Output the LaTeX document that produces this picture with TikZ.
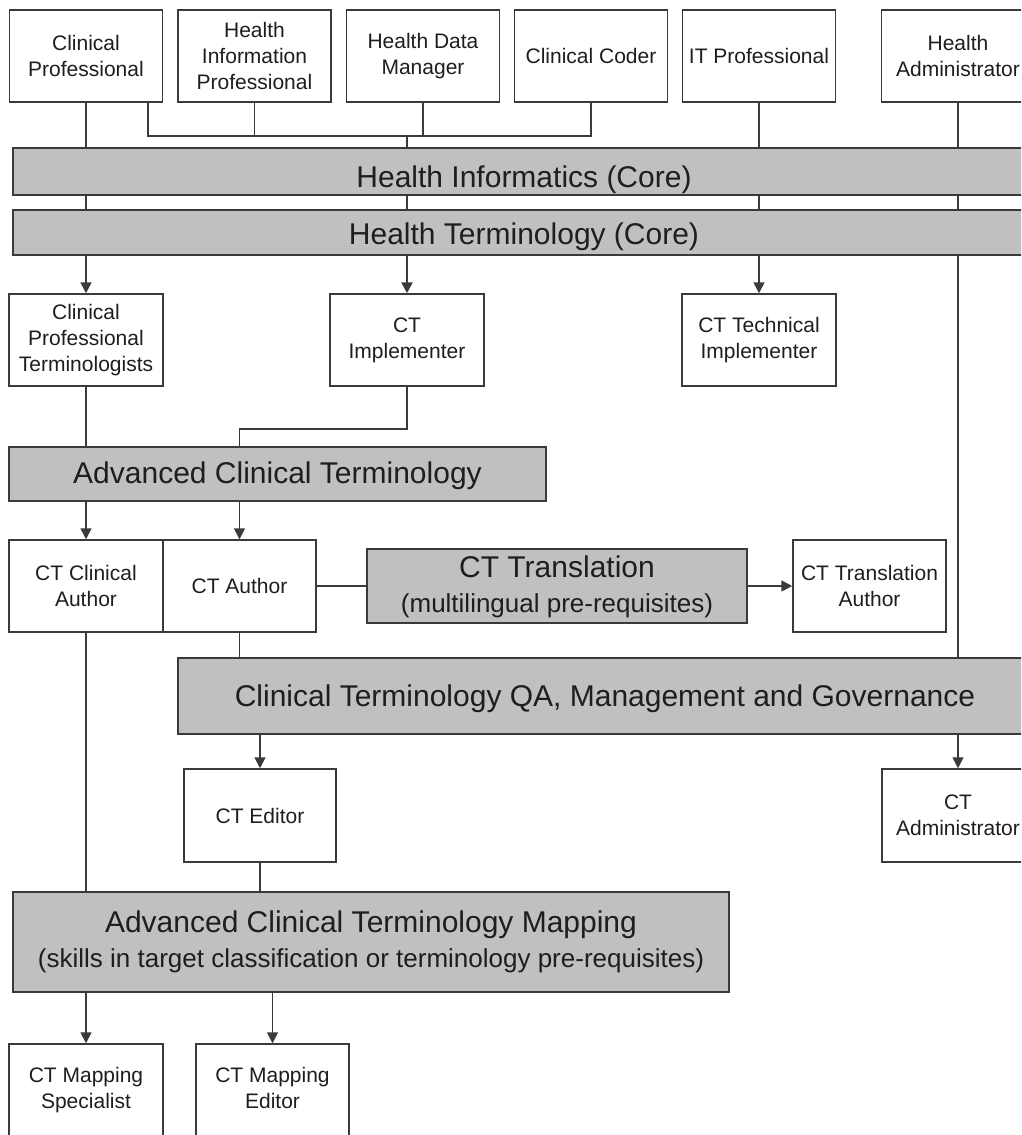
\documentclass[tikz,border=0pt]{standalone}
\usepackage{fontspec}
\setmainfont{Liberation Sans}
\usetikzlibrary{arrows.meta,backgrounds}
\definecolor{barfill}{HTML}{C0C0C0}
\definecolor{edge}{HTML}{3A3A3A}
\definecolor{ink}{HTML}{1E1E1E}

\begin{document}
\begin{tikzpicture}[x=1pt,y=-1pt,
  role/.style={rectangle, draw=edge, line width=1.5pt, fill=white, inner sep=0pt,
    minimum width=153pt, minimum height=92pt, align=center, text=ink,
    font=\fontsize{21}{26}\selectfont},
  course/.style={rectangle, draw=edge, line width=1.6pt, fill=barfill, inner sep=0pt},
  coursetitle/.style={anchor=base, text=ink, inner sep=0pt, font=\fontsize{30}{36}\selectfont},
  coursesub/.style={anchor=base, text=ink, inner sep=0pt, font=\fontsize{26}{31}\selectfont},
  link/.style={draw=edge, line width=1.6pt},
  arr/.style={link, -{Triangle[length=11pt,width=11pt]}},
]
\useasboundingbox (0,0) rectangle (1021,1135);
\clip (0,0) rectangle (1021,1135);

% professional roles
\node[role] (cp)  at (86,56) {Clinical\\Professional};
\node[role] (hip) at (254.5,56) {Health\\Information\\Professional};
\node[role] (hdm) at (423,56) {Health Data\\Manager};
\node[role] (cc)  at (591,56) {Clinical Coder};
\node[role] (itp) at (759,56) {IT Professional};
\node[role] (ha)  at (958,56) {Health\\Administrator};

% core courses
\node[course, minimum width=1022pt, minimum height=47pt] (hi) at (524,171.5) {};
\node[coursetitle] (hiT) at (524,187) {Health Informatics (Core)};
\node[course, minimum width=1022pt, minimum height=45pt] (ht) at (524,232.5) {};
\node[coursetitle] (htT) at (524,244) {Health Terminology (Core)};

% terminology roles
\node[role, minimum width=154pt] (cpt) at (86,340) {Clinical\\Professional\\Terminologists};
\node[role, minimum width=154pt] (cti) at (407,340) {CT\\Implementer};
\node[role, minimum width=154pt] (ctti) at (759,340) {CT Technical\\Implementer};

% advanced course
\node[course, minimum width=537pt, minimum height=54pt] (act) at (277.5,474) {};
\node[coursetitle] (actT) at (277.5,483) {Advanced Clinical Terminology};

% authoring
\node[role, minimum width=154pt] (cca) at (86,586) {CT Clinical\\Author};
\node[role] (ctau) at (239.5,586) {CT Author};
\node[course, minimum width=380pt, minimum height=74pt] (ctt) at (557,586) {};
\node[coursetitle] (cttT) at (557,577) {CT Translation};
\node[coursesub] (cttS) at (557,612) {(multilingual pre-requisites)};
\node[role] (cttr) at (869.5,586) {CT Translation\\Author};

% governance
\node[course, minimum width=854pt, minimum height=76pt] (cgq) at (605,696) {};
\node[coursetitle] (cgqT) at (605,706) {Clinical Terminology QA, Management and Governance};
\node[role, minimum width=152pt, minimum height=93pt] (cte) at (260,815.5) {CT Editor};
\node[role, minimum width=152pt, minimum height=93pt] (cta) at (958,815.5) {CT\\Administrator};

% mapping
\node[course, minimum width=716pt, minimum height=100pt] (map) at (371,942) {};
\node[coursetitle] (mapT) at (371,932) {Advanced Clinical Terminology Mapping};
\node[coursesub] (mapS) at (371,967) {(skills in target classification or terminology pre-requisites)};
\node[role, minimum width=154pt] (cms) at (86,1090) {CT Mapping\\Specialist};
\node[role] (cme) at (272.5,1090) {CT Mapping\\Editor\vphantom{g}};

% connectors run behind the course bars
\begin{scope}[on background layer]
  \fill[white] (0,0) rectangle (1021,1135);
  \coordinate (bus) at (407,136);
  \draw[arr] (cp.south) -- (cpt.north);
  \draw[link] ([xshift=-15pt]cp.south east) |- (bus);
  \draw[link] (hip.south) |- (bus);
  \draw[link] (hdm.south) |- (bus);
  \draw[link] (cc.south) |- (bus);
  \draw[arr, line width=2.4pt] (bus) -- (cti.north);
  \draw[arr] (itp.south) -- (ctti.north);
  \draw[link] (ha.south) -- (cgq.north -| ha.south);
  \draw[link] (cpt.south) -- (act.north -| cpt.south);
  \draw[link] (cti.south) -- ++(0,42) -| (act.north -| ctau.north);
  \draw[arr] (act.south -| cca.north) -- (cca.north);
  \draw[arr] (act.south -| ctau.north) -- (ctau.north);
  \draw[link] (ctau.east) -- (ctt.west);
  \draw[arr] (ctt.east) -- (cttr.west);
  \draw[link] (ctau.south) -- (cgq.north -| ctau.south);
  \draw[arr] (cgq.south -| cte.north) -- (cte.north);
  \draw[arr] (cgq.south -| cta.north) -- (cta.north);
  \draw[link] (cca.south) -- (map.north -| cca.south);
  \draw[link] (cte.south) -- (map.north -| cte.south);
  \draw[arr] (map.south -| cms.north) -- (cms.north);
  \draw[arr] (map.south -| cme.north) -- (cme.north);
\end{scope}
\end{tikzpicture}
\end{document}
